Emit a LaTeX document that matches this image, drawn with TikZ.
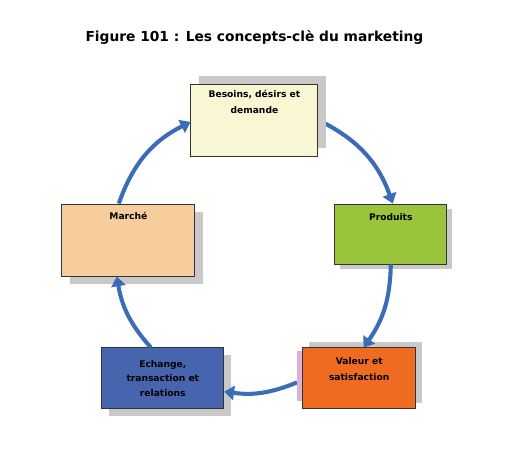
\documentclass[tikz,border=0pt]{standalone}
\usepackage{fontspec}
\setmainfont{DejaVu Sans}
\usetikzlibrary{positioning,shadows,arrows.meta,backgrounds}

\definecolor{besoinsfill}{HTML}{F9F6D3}
\definecolor{marchefill}{HTML}{F7CD9E}
\definecolor{produitsfill}{HTML}{9BC43D}
\definecolor{echangefill}{HTML}{4764AF}
\definecolor{valeurfill}{HTML}{F06B22}
\definecolor{cyclecol}{HTML}{3B6CB7}
\definecolor{shadowgray}{HTML}{C9C9C9}

\tikzset{
  conceptbox/.style={draw=black!80, line width=0.6pt, rectangle},
  shadowdown/.style={drop shadow={shadow xshift=0.2cm, shadow yshift=-0.2cm, fill=shadowgray, opacity=1}},
  shadowup/.style={drop shadow={shadow xshift=0.2cm, shadow yshift=0.2cm, fill=shadowgray, opacity=1}},
  boxtext/.style={font=\bfseries\fontsize{6.5}{11.5}\selectfont, align=center, inner sep=0pt},
  cyclearrow/.style={cyclecol, line width=2.9pt, -{Triangle[width=10pt,length=7pt]}},
}

\begin{document}
\begin{tikzpicture}[on grid]
\useasboundingbox (0,0) rectangle (12.8,11.575);

\node[font=\bfseries\fontsize{9.8}{12}\selectfont] (title) at (6.36,10.65) {Figure 101 : Les concepts-clè du marketing};

% boxes of the cycle
\node[conceptbox, shadowup, fill=besoinsfill, minimum width=3.175cm, minimum height=1.8cm, below=2.075cm of title] (besoins) {};
\node[conceptbox, shadowdown, fill=marchefill, minimum width=3.325cm, minimum height=1.8cm, below left=3cm and 3.15cm of besoins] (marche) {};
\node[conceptbox, drop shadow={shadow xshift=0.13cm, shadow yshift=-0.13cm, fill=shadowgray, opacity=1}, fill=produitsfill, minimum width=2.8cm, minimum height=1.5cm, below right=2.85cm and 3.41cm of besoins] (produits) {};
\node[conceptbox, drop shadow={shadow xshift=0.18cm, shadow yshift=-0.18cm, fill=shadowgray, opacity=1}, fill=echangefill, minimum width=3.05cm, minimum height=1.525cm, below right=3.46cm and 0.86cm of marche] (echange) {};
\node[conceptbox, drop shadow={shadow xshift=0.15cm, shadow yshift=0.15cm, fill=shadowgray, opacity=1}, fill=valeurfill, minimum width=2.825cm, minimum height=1.525cm, right=4.91cm of echange] (valeur) {};

% texts
\node[boxtext, anchor=north] (besoins-t) at ([yshift=-0.15cm]besoins.north) {Besoins, désirs et\\demande};
\node[boxtext, anchor=north] (marche-t) at ([yshift=-0.22cm]marche.north) {Marché};
\node[boxtext, anchor=north] (produits-t) at ([yshift=-0.25cm]produits.north) {Produits};
\node[boxtext, font=\bfseries\fontsize{6.5}{10.5}\selectfont] (echange-t) at (echange) {Echange,\\transaction et\\relations};
\node[boxtext, anchor=north] (valeur-t) at ([yshift=-0.25cm]valeur.north) {Valeur et\\satisfaction};

% arrows round the cycle
\draw[cyclearrow] ([xshift=-0.24cm]marche.north) to[bend left=22] ([yshift=-0.05cm]besoins.west);
\begin{scope}[on background layer]
\draw[cyclearrow] (besoins.east) to[bend left=22] ([xshift=0.05cm]produits.north);
\end{scope}
\draw[cyclearrow] (produits.south) to[bend left=17] ([xshift=0.11cm]valeur.north);
\draw[cyclearrow] ([xshift=-0.13cm,yshift=-0.1cm]valeur.west) to[bend left=15] ([yshift=-0.33cm]echange.east);
\draw[cyclearrow] ([xshift=-0.3cm]echange.north) to[bend left=16] ([xshift=-0.29cm]marche.south);
\fill[violet!30] ([xshift=-0.13cm,yshift=-0.1cm]valeur.north west) rectangle ([yshift=0.2cm]valeur.south west);
\end{tikzpicture}
\end{document}
